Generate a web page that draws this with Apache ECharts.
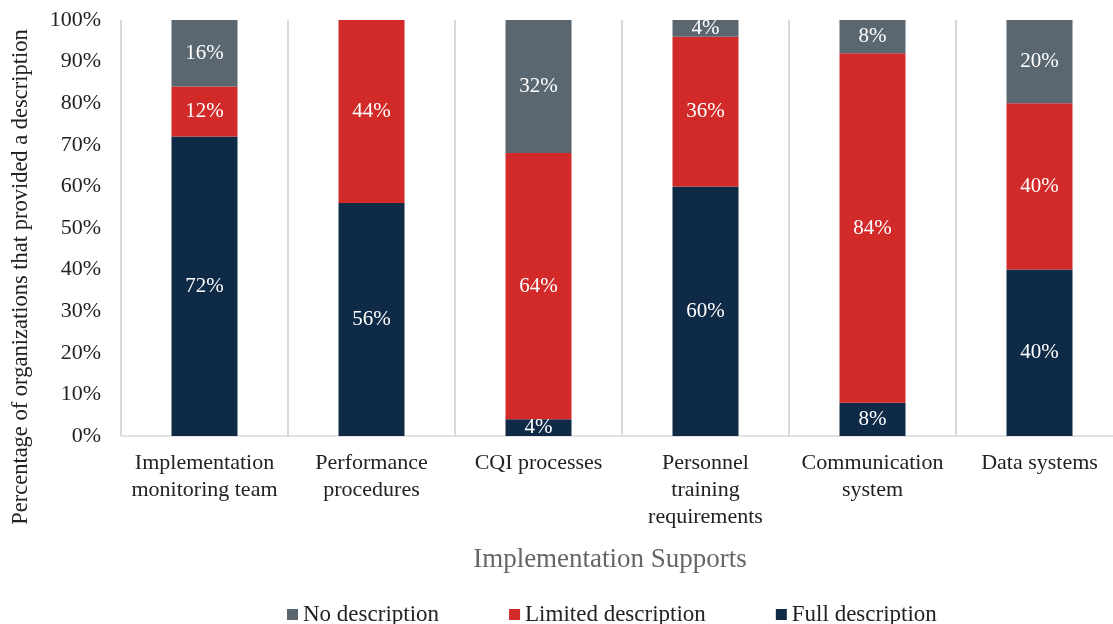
<!DOCTYPE html>
<html><head><meta charset="utf-8">
<script src="https://cdn.jsdelivr.net/npm/echarts@6/dist/echarts.min.js"></script>
<style>html,body{margin:0;padding:0;background:#fff}#c{width:1113px;height:624px}</style>
</head><body><div id="c"></div>
<script>
const categories = ['Implementation\nmonitoring team','Performance\nprocedures','CQI processes','Personnel\ntraining\nrequirements','Communication\nsystem','Data systems'];
const fullDesc = [72,56,4,60,8,40];
const limitedDesc = [12,44,64,36,84,40];
const noDesc = [16,0,32,4,8,20];
const yTicks = [0,10,20,30,40,50,60,70,80,90,100];
const yTitle = 'Percentage of organizations that provided a description';

const font = '"Liberation Serif","Times New Roman",serif';
const chart = echarts.init(document.getElementById('c'));
function ser(name, data, color){
  return {name, type:'bar', stack:'s', data, barWidth:66,
    itemStyle:{color},
    label:{show:true, position:'inside', color:'#fff', fontFamily:font, fontSize:21,
      formatter:p=>p.value>0?p.value+'%':''}};
}
chart.setOption({
  animation:false,
  textStyle:{fontFamily:font},
  grid:{left:121,right:-10,top:20,bottom:188,containLabel:false,outerBoundsMode:'none'},
  legend:{top:598,left:282,itemWidth:11,itemHeight:11,itemGap:70,icon:'rect',
    textStyle:{fontFamily:font,fontSize:23,color:'#222'},
    data:['No description','Limited description','Full description']},
  graphic:[{type:'text',x:21,y:277,rotation:Math.PI/2,
    style:{text:yTitle,fontFamily:font,fontSize:22.5,fill:'#222',textAlign:'center',textVerticalAlign:'middle'}}],
  xAxis:{type:'category',data:categories,
    name:'Implementation Supports',nameLocation:'middle',nameGap:110,
    nameTextStyle:{fontFamily:font,fontSize:27,color:'#666',padding:[0,24,0,0]},
    axisLine:{lineStyle:{color:'#d9d9d9',width:1.5}},axisTick:{show:false},
    splitLine:{show:true,lineStyle:{color:'#d9d9d9',width:2}},
    axisLabel:{fontFamily:font,fontSize:22,color:'#222',lineHeight:27,margin:14,interval:0}},
  yAxis:{type:'value',min:0,max:100,interval:10,
    axisLine:{show:false},axisTick:{show:false},splitLine:{show:false},
    axisLabel:{fontFamily:font,fontSize:22,color:'#222',margin:20,
      formatter:v=>yTicks.includes(v)?v+'%':''}},
  series:[ser('Full description',fullDesc,'#0E2A47'),ser('Limited description',limitedDesc,'#D12A28'),ser('No description',noDesc,'#5A6670')]
});
</script></body></html>
